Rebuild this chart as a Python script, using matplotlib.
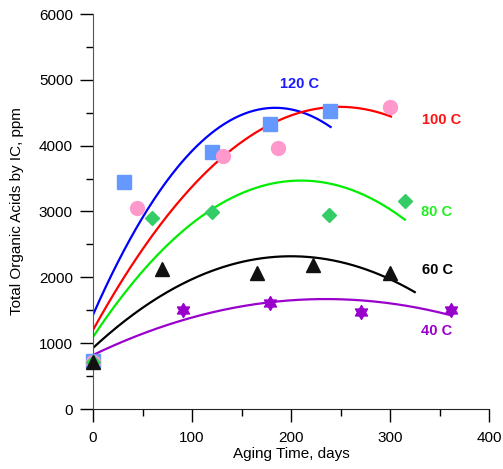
import numpy as np
import matplotlib
matplotlib.use("Agg")
import matplotlib.pyplot as plt
from matplotlib.ticker import MultipleLocator
from matplotlib.path import Path

plt.rcParams['font.family'] = ['Liberation Sans', 'DejaVu Sans']

# Measured data (days, ppm)
x120 = [0, 31, 120, 179, 239]
y120 = [730, 3450, 3900, 4330, 4520]
x100 = [0, 44, 131, 187, 300]
y100 = [720, 3050, 3845, 3967, 4590]
x80 = [0, 60, 120, 238, 315]
y80 = [720, 2900, 2994, 2950, 3160]
x60 = [0, 70, 166, 222, 300]
y60 = [720, 2120, 2070, 2180, 2060]
x40 = [91, 179, 271, 362]
y40 = [1510, 1610, 1470, 1500]

# Quadratic fit curves: (intercept at 0, vertex day, vertex ppm, end day)
fit120 = (1430, 184, 4575, 240)
fit100 = (1200, 249, 4590, 301)
fit80 = (1094, 210, 3470, 315)
fit60 = (927, 200, 2320, 325)
fit40 = (820, 235, 1670, 362)

labels = ["120 C", "100 C", "80 C", "60 C", "40 C"]

# six-pointed star marker
ang = np.pi/2 + np.arange(12) * np.pi/6
rad = np.where(np.arange(12) % 2 == 0, 1.0, 0.58)
verts = np.column_stack([rad*np.cos(ang), rad*np.sin(ang)])
verts = np.vstack([verts, verts[:1]])
hexagram = Path(verts, [Path.MOVETO] + [Path.LINETO]*11 + [Path.CLOSEPOLY])

fig = plt.figure(figsize=(5.03, 4.69), dpi=100)
ax = fig.add_axes([93/503, 1-409/469, (489-93)/503, (409-14)/469])

def curve(fit, color):
    y0, xv, yv, xe = fit
    c = (y0 - yv) / xv**2
    xs = np.linspace(0, xe, 200)
    ax.plot(xs, yv + c*(xs - xv)**2, color=color, lw=1.6, zorder=2)

curve(fit120, '#0000ff')
curve(fit100, '#ff0000')
curve(fit80, '#00ee00')
curve(fit60, '#000000')
curve(fit40, '#9900cc')

kw = dict(ls='none', clip_on=False, zorder=3)
ax.plot(x120, y120, marker='s', ms=10, color='#6699ff', **kw)
ax.plot(x100, y100, marker='o', ms=10, color='#ff99cc', **kw)
ax.plot(x80, y80, marker='D', ms=7.5, color='#33cc66', **kw)
ax.plot(x60, y60, marker='^', ms=9.5, color='#111111', **kw)
ax.plot(x40, y40, marker=hexagram, ms=10, color='#9900cc', **kw)

tkw = dict(fontsize=10.5, fontweight='bold', ha='center', va='center')
ax.text(209, 4940, labels[0], color='#1a1aff', **tkw)
ax.text(352, 4390, labels[1], color='#ff1111', **tkw)
ax.text(347, 3000, labels[2], color='#22ee22', **tkw)
ax.text(348, 2110, labels[3], color='#000000', **tkw)
ax.text(347, 1180, labels[4], color='#9900cc', **tkw)

ax.set_xlim(0, 400)
ax.set_ylim(0, 6000)
ax.xaxis.set_major_locator(MultipleLocator(100))
ax.xaxis.set_minor_locator(MultipleLocator(50))
ax.yaxis.set_major_locator(MultipleLocator(1000))
ax.yaxis.set_minor_locator(MultipleLocator(500))
ax.tick_params(which='major', direction='out', length=9.5, width=1, labelsize=11, pad=5)
ax.tick_params(which='minor', direction='out', length=5, width=1)
ax.tick_params(axis='x', which='major', pad=6)
for s in ['top', 'right']:
    ax.spines[s].set_visible(False)
ax.spines['left'].set_color('#555555')
ax.spines['bottom'].set_color('#222222')
ax.set_xlabel("Aging Time, days", fontsize=11, labelpad=2)
ax.set_ylabel("Total Organic Acids by IC, ppm", fontsize=11, labelpad=11)

fig.savefig("out.png", dpi=100)
